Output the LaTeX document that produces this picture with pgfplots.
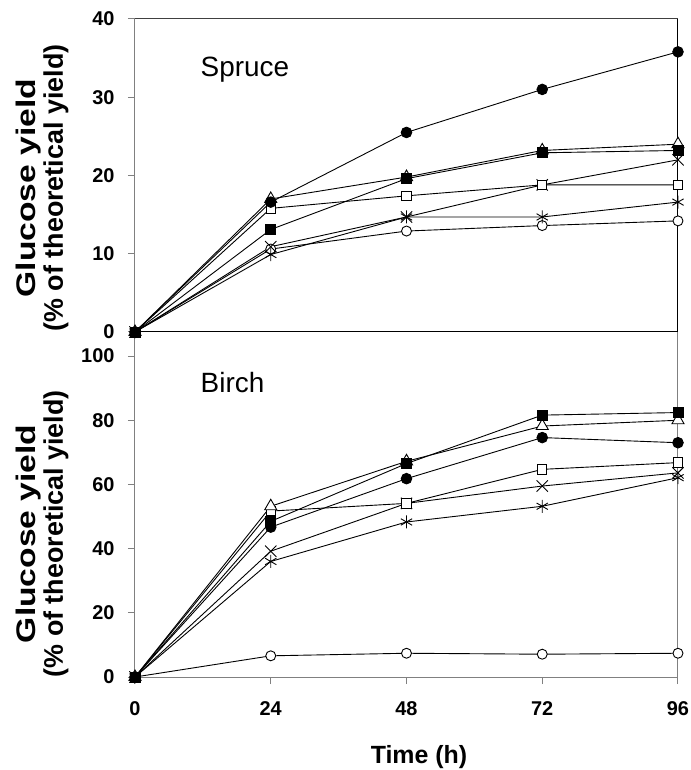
\documentclass[border=0pt]{standalone}
\usepackage{fontspec}
\setmainfont{Liberation Sans}
\usepackage{graphicx}
\usepackage{pgfplots}
\pgfplotsset{compat=1.18}

\pgfplotsset{
  panel/.style={
    scale only axis, width=543bp, xmin=0, xmax=96, ymin=0,
    axis line style={draw=gray, line width=1bp},
    tick align=outside, tick pos=left, major tick length=7bp,
    tick style={gray, line width=1bp},
    /pgf/number format/assume math mode=true,
    ticklabel style={font=\bfseries\fontsize{20}{22}\selectfont},
    yticklabel style={xshift=-10bp},
    xticklabel style={yshift=-14bp},
    ylabel style={font=\bfseries\fontsize{27}{28}\selectfont, align=center, anchor=south},
    clip=false,
  },
  fcirc/.style={black, line width=0.9bp, mark=*, mark size=5.3bp, mark options={solid, fill=black}},
  fsq/.style={black, line width=0.9bp, mark=square*, mark size=5bp, mark options={solid, fill=black}},
  otri/.style={black, line width=0.9bp, mark=triangle*, mark size=7bp, mark options={solid, fill=white}},
  osq/.style={black, line width=0.9bp, mark=square*, mark size=4.7bp, mark options={solid, fill=white}},
  xm/.style={black, line width=0.9bp, mark=x, mark size=8bp, mark options={solid}},
  ast/.style={black, line width=0.9bp, mark=asterisk, mark size=6.5bp, mark options={solid}},
  ocirc/.style={black, line width=0.9bp, mark=*, mark size=5bp, mark options={solid, fill=white}},
}

\begin{document}
\begin{tikzpicture}
\useasboundingbox (-135bp,-93bp) rectangle (556bp,677bp);

% Birch
\begin{axis}[panel, at={(0,0)}, anchor=south west,
  height=345bp, ymax=107.5,
  xtick={0,24,48,72,96}, ytick={0,20,40,60,80,100},
  xlabel={Time (h)},
  xlabel style={font=\bfseries\fontsize{25}{28}\selectfont, at={(rel axis cs:0.523,0)}, anchor=base, yshift=-86bp},
  ylabel={\scalebox{1.25}[1]{Glucose yield}\\(\% of theoretical yield)},
  ylabel style={at={(rel axis cs:-0.116,0.415)}},
]
\addplot[ocirc] coordinates {(0,0)(24,6.6)(48,7.4)(72,7.1)(96,7.4)};
\addplot[ast] coordinates {(0,0)(24,36.0)(48,48.3)(72,53.2)(96,62.1)};
\addplot[xm] coordinates {(0,0)(24,39.2)(48,54.1)(72,59.5)(96,63.6)};
\addplot[osq] coordinates {(0,0)(24,51.7)(48,54.1)(72,64.7)(96,66.8)};
\addplot[otri] coordinates {(0,0)(24,53.2)(48,67.2)(72,78.2)(96,80.0)};
\addplot[fcirc] coordinates {(0,0)(24,46.7)(48,61.8)(72,74.6)(96,73.0)};
\addplot[fsq] coordinates {(0,0)(24,48.5)(48,66.5)(72,81.6)(96,82.4)};
\node[anchor=base west, font=\fontsize{28}{30}\selectfont] at (axis cs:11,88.6) {Birch};
\end{axis}

% Spruce
\begin{axis}[panel, at={(0,345bp)}, anchor=south west,
  height=313bp, ymax=40,
  xtick=\empty, ytick={0,10,20,30,40},
  ylabel={\scalebox{1.25}[1]{Glucose yield}\\(\% of theoretical yield)},
  ylabel style={at={(rel axis cs:-0.116,0.46)}},
]
\draw[black, line width=1bp] (rel axis cs:0,0) -- (rel axis cs:1,0) -- (rel axis cs:1,1);
\draw[black!75, line width=1bp] (rel axis cs:1,1) -- (rel axis cs:0,1);
\addplot[ocirc] coordinates {(0,0)(24,10.6)(48,12.9)(72,13.6)(96,14.2)};
\addplot[ast] coordinates {(0,0)(24,9.9)(48,14.7)(72,14.7)(96,16.6)};
\addplot[xm] coordinates {(0,0)(24,10.9)(48,14.7)(72,18.8)(96,22.0)};
\addplot[osq] coordinates {(0,0)(24,15.8)(48,17.4)(72,18.8)(96,18.8)};
\addplot[otri] coordinates {(0,0)(24,17.0)(48,19.8)(72,23.2)(96,24.0)};
\addplot[fcirc] coordinates {(0,0)(24,16.6)(48,25.5)(72,31.0)(96,35.8)};
\addplot[fsq] coordinates {(0,0)(24,13.1)(48,19.6)(72,22.9)(96,23.2)};
\node[anchor=base west, font=\fontsize{28}{30}\selectfont] at (axis cs:11,32.6) {Spruce};
\end{axis}
\end{tikzpicture}
\end{document}
